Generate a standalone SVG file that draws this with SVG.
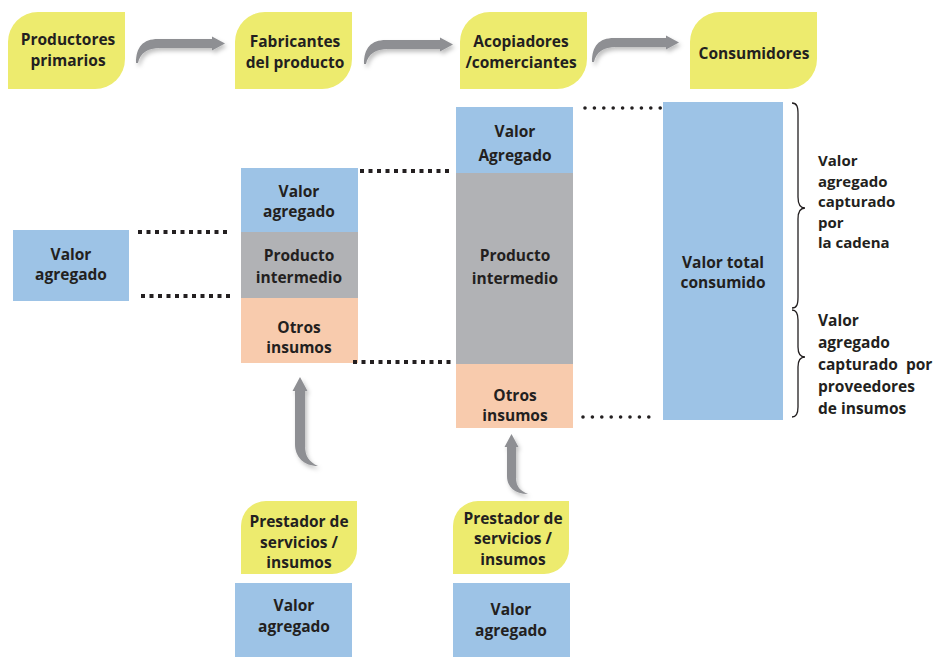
<svg xmlns="http://www.w3.org/2000/svg" width="937" height="657" viewBox="0 0 937 657">
<style>
text{font-family:"Open Sans","Liberation Sans",sans-serif;font-weight:700;font-size:15.5px;fill:#231F20;text-anchor:middle}
.lt{text-anchor:start}
.sm{font-size:15px}
.leaf{fill:#EDEB6E}
.va{fill:#9DC3E6}
.pi{fill:#B1B2B5}
.oi{fill:#F8CBAD}
.arr{fill:#8E8F93;filter:url(#sh)}
.sq{stroke:#231F20;stroke-width:4;stroke-dasharray:4 4.5;fill:none}
.rd{stroke:#231F20;stroke-width:3.6;stroke-dasharray:0 9.4;stroke-linecap:round;fill:none}
.br{stroke:#231F20;stroke-width:1.3;fill:none}
</style>
<defs>
<filter id="sh" x="-30%" y="-30%" width="160%" height="160%">
<feDropShadow dx="2" dy="3" stdDeviation="2" flood-color="#000" flood-opacity="0.25"/>
</filter>
</defs>
<rect width="937" height="657" fill="#fff"/>

<g id="productores">
<path class="leaf" d="M8,42 A30,30 0 0 1 38,12 L125,12 L125,59 A30,30 0 0 1 95,89 L8,89 Z"/>
<text x="68" y="45">Productores</text>
<text x="68" y="66">primarios</text>
</g>
<g id="fabricantes">
<path class="leaf" d="M235,42 A30,30 0 0 1 265,12 L352,12 L352,59 A30,30 0 0 1 322,89 L235,89 Z"/>
<text x="295" y="47">Fabricantes</text>
<text x="295" y="68">del producto</text>
</g>
<g id="acopiadores">
<path class="leaf" d="M460,42 A30,30 0 0 1 490,12 L587,12 L587,59 A30,30 0 0 1 557,89 L460,89 Z"/>
<text x="521" y="47">Acopiadores</text>
<text x="521" y="68">/comerciantes</text>
</g>
<g id="consumidores">
<path class="leaf" d="M690,42 A30,30 0 0 1 720,12 L817,12 L817,59 A30,30 0 0 1 787,89 L690,89 Z"/>
<text x="754" y="59">Consumidores</text>
</g>

<g id="va-productores">
<rect class="va" x="13" y="230" width="116" height="71"/>
<text x="71" y="260">Valor</text>
<text x="71" y="280">agregado</text>
</g>

<g id="stack-fabricantes">
<rect class="va" x="241" y="168" width="117" height="64"/>
<text x="299" y="197">Valor</text>
<text x="299" y="217">agregado</text>
<rect class="pi" x="241" y="232" width="117" height="66"/>
<text x="299" y="261">Producto</text>
<text x="299" y="283">intermedio</text>
<rect class="oi" x="241" y="298" width="117" height="65"/>
<text x="299" y="333">Otros</text>
<text x="299" y="353">insumos</text>
</g>

<g id="stack-acopiadores">
<rect class="va" x="456" y="107" width="117" height="66"/>
<text x="515" y="137">Valor</text>
<text x="515" y="161">Agregado</text>
<rect class="pi" x="456" y="173" width="117" height="191"/>
<text x="515" y="261">Producto</text>
<text x="515" y="284">intermedio</text>
<rect class="oi" x="456" y="364" width="117" height="64"/>
<text x="515" y="400.5">Otros</text>
<text x="515" y="421">insumos</text>
</g>

<g id="valor-total">
<rect class="va" x="663" y="102" width="120" height="318"/>
<text x="723" y="268">Valor total</text>
<text x="723" y="288">consumido</text>
</g>

<g id="cadena">
<path class="br" d="M792,103 C797,103 798,107 798,114 L798,197 C798,204 800,208 805,208 C800,208 798,212 798,219 L798,297 C798,304 797,308 792,308"/>
<text class="lt sm" x="818" y="166">Valor</text>
<text class="lt sm" x="818" y="186.5">agregado</text>
<text class="lt sm" x="818" y="207">capturado</text>
<text class="lt sm" x="818" y="227.5">por</text>
<text class="lt sm" x="818" y="248">la cadena</text>
</g>

<g id="proveedores">
<path class="br" d="M792,310 C797,310 798,314 798,320 L798,347 C798,353 800,357 805,357 C800,357 798,361 798,367 L798,407 C798,413 797,417 792,417"/>
<text class="lt" x="818" y="326">Valor</text>
<text class="lt" x="818" y="348">agregado</text>
<text class="lt" x="818" y="370" xml:space="preserve">capturado  por</text>
<text class="lt" x="818" y="392">proveedores</text>
<text class="lt" x="818" y="414">de insumos</text>
</g>

<g id="prestador-1">
<path class="leaf" d="M241,526 A25,25 0 0 1 266,501 L357,501 L357,549 A25,25 0 0 1 332,574 L241,574 Z"/>
<text x="299" y="527">Prestador de</text>
<text x="299" y="547.5">servicios /</text>
<text x="299" y="568">insumos</text>
</g>
<g id="va-prestador-1">
<rect class="va" x="235" y="583" width="117" height="74"/>
<text x="294" y="611">Valor</text>
<text x="294" y="632">agregado</text>
</g>

<g id="prestador-2">
<path class="leaf" d="M453,526 A25,25 0 0 1 478,501 L569,501 L569,549 A25,25 0 0 1 544,574 L453,574 Z"/>
<text x="513" y="523.5">Prestador de</text>
<text x="513" y="544">servicios /</text>
<text x="513" y="564.5">insumos</text>
</g>
<g id="va-prestador-2">
<rect class="va" x="453" y="583" width="117" height="74"/>
<text x="511" y="615">Valor</text>
<text x="511" y="636">agregado</text>
</g>

<g id="connectors">
<path class="arr" d="M136,63 C136,47 143,39 158,39 L212,39 L212,36.5 L225,43.5 L212,50.5 L212,48 L160,48 C148,48 140,53 138,63 Z"/>
<path class="arr" d="M364,64 C364,48 371,40 386,40 L440,40 L440,37.5 L453,44.5 L440,51.5 L440,49 L388,49 C376,49 368,54 366,64 Z"/>
<path class="arr" d="M592,62 C592,46 599,38 614,38 L666,38 L666,35.5 L679,42.5 L666,49.5 L666,47 L616,47 C604,47 596,52 594,62 Z"/>
<path class="arr" d="M295,391 L292.5,391 L300,377 L307.5,391 L305,391 L305,446 C305,456 309,462 318,466 C304,466 295,457 295,444 Z"/>
<path class="arr" d="M507,447 L504.5,447 L511.5,434 L518.5,447 L516,447 L516,478 C516,486 520,491 528,494 C515,494 507,487 507,476 Z"/>
<line class="sq" x1="138" y1="232" x2="229" y2="232"/>
<line class="sq" x1="141" y1="296" x2="231" y2="296"/>
<line class="sq" x1="360" y1="171" x2="453" y2="171"/>
<line class="sq" x1="353" y1="362" x2="453" y2="362"/>
<line class="rd" x1="585" y1="108" x2="661" y2="108"/>
<line class="rd" x1="583" y1="417" x2="658" y2="417"/>
</g>
</svg>
